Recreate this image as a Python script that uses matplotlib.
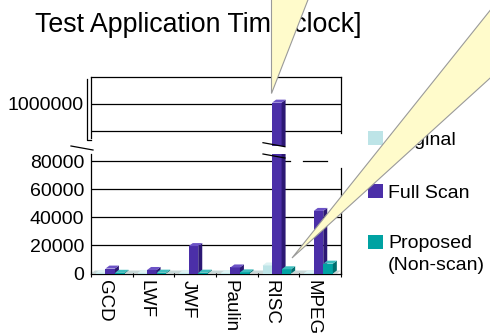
import matplotlib
matplotlib.use("Agg")
import matplotlib.pyplot as plt
from matplotlib.patches import Polygon, Rectangle
from matplotlib.lines import Line2D
import numpy as np

plt.rcParams['font.family'] = ['Liberation Sans', 'DejaVu Sans']

# ---- data ----
categories = ["GCD", "LWF", "JWF", "Paulin", "RISC", "MPEG"]
series_names = ["Original", "Full Scan", "Proposed\n(Non-scan)"]
original = [500, 400, 400, 300, 5700, 300]
full_scan = [3500, 2500, 19500, 4300, 1005000, 44500]
proposed = [500, 600, 600, 800, 3000, 7000]
lower_ticks = [0, 20000, 40000, 60000, 80000]
upper_ticks = [900000, 1000000, 1100000]
upper_tick_labels = ["", "1000000", ""]
title = "Test Application Time[clock]"

front_colors = ["#BDE4E7", "#4B2FA8", "#00A2A2"]
side_colors = ["#8FC3C7", "#2C1874", "#006E6E"]
top_colors = ["#DDF2F3", "#6C53C6", "#3DBDBD"]
callout_face = "#FFFBCB"
callout_edge = "#9A9A9A"

W, H = 490, 336
fig = plt.figure(figsize=(W / 100, H / 100), dpi=100)


def fx(px):
    return px / W


def fy(py):
    return 1 - py / H


def axes_px(x0, y0, x1, y1):
    return fig.add_axes([fx(x0), fy(y1), fx(x1) - fx(x0), fy(y0) - fy(y1)])


ax_lo = axes_px(91, 154, 341, 273.5)
ax_hi = axes_px(91, 77, 341, 146)

ax_lo.set_xlim(-0.5, 5.5)
ax_hi.set_xlim(-0.5, 5.5)
lo_top = (273.5 - 154) / 112.5 * 80000
ax_lo.set_ylim(0, lo_top)
ax_hi.set_ylim(1000000 - (146 - 104) / 27 * 100000, 1100000)

for ax in (ax_lo, ax_hi):
    ax.set_facecolor("none")
    for s in ax.spines.values():
        s.set_linewidth(0.9)
        s.set_color("black")

DX_PX, DY_PX = 4.0, 3.0


def px_units(ax):
    bb = ax.get_window_extent()
    x0, x1 = ax.get_xlim()
    y0, y1 = ax.get_ylim()
    return (x1 - x0) / bb.width, (y1 - y0) / bb.height


def bar3d(ax, x, h, w, k, z):
    ux, uy = px_units(ax)
    dx, dy = DX_PX * ux, DY_PX * uy
    ax.bar(x, h, w, color=front_colors[k], edgecolor="none", zorder=z)
    xr = x + w / 2
    xl = x - w / 2
    ax.add_patch(Polygon([(xr, 0), (xr, h), (xr + dx, h + dy), (xr + dx, dy)],
                         closed=True, facecolor=side_colors[k], edgecolor="none", zorder=z))
    ax.add_patch(Polygon([(xl, h), (xr, h), (xr + dx, h + dy), (xl + dx, h + dy)],
                         closed=True, facecolor=top_colors[k], edgecolor="none", zorder=z))


x = np.arange(len(categories))
bw = 0.228
offsets = [-0.27, -0.04, 0.19]
values = [original, full_scan, proposed]

for ax in (ax_lo, ax_hi):
    z = 3
    for i in range(len(categories)):
        for k in range(3):
            bar3d(ax, x[i] + offsets[k], values[k][i], bw, k, z)
            z += 0.01

# floor strip
ux, uy = px_units(ax_lo)
ax_lo.add_patch(Polygon([(-0.5, 0), (5.5 - DX_PX * ux, 0), (5.5, DY_PX * uy), (-0.5 + DX_PX * ux, DY_PX * uy)],
                        closed=True, facecolor="#C8D8D8", edgecolor="none", zorder=2))

# lower panel: grid, spines, ticks
for v in lower_ticks[1:-1]:
    ax_lo.axhline(v, color="black", lw=0.9, zorder=1)
ax_lo.axhline(lower_ticks[-1], xmin=0, xmax=(290 - 91) / 250, color="black", lw=0.9, zorder=1)
ax_lo.axhline(lower_ticks[-1], xmin=(303 - 91) / 250, xmax=(327 - 91) / 250, color="black", lw=0.9, zorder=1)
ax_lo.spines["top"].set_visible(False)
ax_lo.spines["right"].set_bounds(0, (273.5 - 168) / 112.5 * 80000)
ax_lo.set_yticks(lower_ticks)
ax_lo.set_yticklabels([str(v) for v in lower_ticks])
ax_lo.tick_params(axis="y", length=0, pad=5, labelsize=14)
ax_lo.set_xticks(np.arange(-0.5, 6, 1))
ax_lo.set_xticklabels([])
ax_lo.set_xticks(x - 0.17, minor=True)
ax_lo.set_xticklabels(categories, minor=True, rotation=270, fontsize=13.5)
ax_lo.tick_params(axis="x", which="major", direction="inout", length=5, width=0.8)
ax_lo.tick_params(axis="x", which="minor", length=0, pad=5)

# upper panel
for v in upper_ticks[:2]:
    ax_hi.axhline(v, color="black", lw=0.9, zorder=1)
ax_hi.spines["bottom"].set_visible(False)
ax_hi.spines["left"].set_bounds(1000000 - (138 - 104) / 27 * 100000, 1100000)
ax_hi.spines["right"].set_bounds(1000000 - (133 - 104) / 27 * 100000, 1100000)
ax_hi.set_xticks([])
ax_hi.set_yticks(upper_ticks)
ax_hi.set_yticklabels(upper_tick_labels)
ax_hi.tick_params(axis="y", length=0, pad=5, labelsize=14)


def fline(pts, **kw):
    xs = [fx(p[0]) for p in pts]
    ys = [fy(p[1]) for p in pts]
    fig.add_artist(Line2D(xs, ys, transform=fig.transFigure, color="black", lw=0.9, **kw))


# back wall edge of the upper panel and axis-break marks
fline([(87, 79), (87, 139.5), (91, 139.5)])
fline([(71, 146), (93, 150)])
fline([(263, 142.7), (285, 146.7)])
fline([(263, 154), (285, 158)])

# title
fig.text(fx(35), fy(31.5), title, fontsize=19.3, ha="left", va="baseline", zorder=5)

# legend
legend_rows = [(131, 145), (184, 197.5), (235, 248.5)]
for k, (top, base) in enumerate(legend_rows):
    fig.add_artist(Rectangle((fx(368), fy(top + 14)), fx(383) - fx(368), fy(top) - fy(top + 14),
                             transform=fig.transFigure, facecolor=front_colors[k], edgecolor="none"))
    fig.text(fx(388), fy(base), series_names[k].split("\n")[0], fontsize=14, ha="left", va="baseline")
fig.text(fx(388), fy(270), series_names[2].split("\n")[1], fontsize=14, ha="left", va="baseline")

# callout wedges
wedges = [
    [(271, 93), (271, -20), (315, -20)],
    [(292, 258), (510, -14.5), (510, 60)],
]
for pts in wedges:
    fig.add_artist(Polygon([(fx(a), fy(b)) for a, b in pts], closed=True, transform=fig.transFigure,
                           facecolor=callout_face, edgecolor=callout_edge, lw=0.8, zorder=10))

fig.savefig("out.png", dpi=100)
